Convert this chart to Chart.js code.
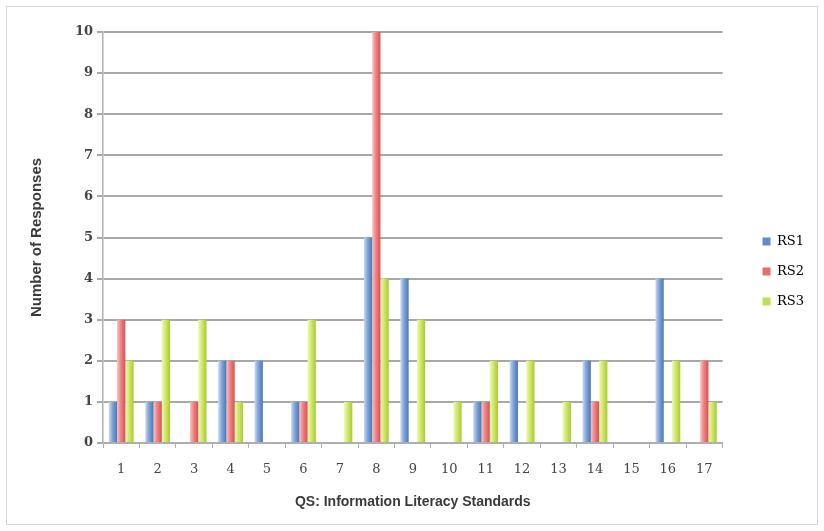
<!DOCTYPE html>
<html>
<head>
<meta charset="utf-8">
<script src="https://cdn.jsdelivr.net/npm/chart.js@4/dist/chart.umd.min.js"></script>
<style>
  html, body { margin: 0; padding: 0; background: #ffffff; }
  #wrap { width: 824px; height: 531px; position: relative; }
</style>
</head>
<body>
<div id="wrap"><canvas id="c" width="824" height="531"></canvas></div>
<script>
// Standards 1-17 and responses per rating scale
const standards = ['1','2','3','4','5','6','7','8','9','10','11','12','13','14','15','16','17'];
const rs1 = [1, 1, 0, 2, 2, 1, 0, 5, 4, 0, 1, 2, 0, 2, 0, 4, 0];
const rs2 = [3, 1, 1, 2, 0, 1, 0, 10, 0, 0, 1, 0, 0, 1, 0, 0, 2];
const rs3 = [2, 3, 3, 1, 0, 3, 1, 4, 3, 1, 2, 2, 1, 2, 0, 2, 1];
const seriesNames = ['RS1', 'RS2', 'RS3'];

const CAT_PCT = 0.68;

// shaded fill across each bar: light edge on the left, deeper tone on the right
const shades = [
  ['#c9daf2', '#7ea3d8', '#4a76b6'],
  ['#fbc3c3', '#f08282', '#d95050'],
  ['#eef9b8', '#cfe86a', '#a9c931']
];
function barFill(dsIndex) {
  return function (ctx) {
    const s = shades[dsIndex];
    if (ctx.type !== 'data') return s[1];
    const chart = ctx.chart;
    const xs = chart.scales.x;
    if (!xs || !xs.width) return s[1];
    const cat = xs.width / standards.length;
    const group = cat * CAT_PCT;
    const bw = group / 3;
    const center = xs.getPixelForValue(ctx.dataIndex);
    const left = center - group / 2 + dsIndex * bw;
    const g = chart.ctx.createLinearGradient(left, 0, left + bw, 0);
    g.addColorStop(0, s[0]);
    g.addColorStop(0.45, s[1]);
    g.addColorStop(1, s[2]);
    return g;
  };
}

// thin frame around the whole figure
const framePlugin = {
  id: 'frame',
  beforeDraw(chart) {
    const c = chart.ctx;
    c.save();
    c.fillStyle = '#ffffff';
    c.fillRect(0, 0, chart.width, chart.height);
    c.strokeStyle = '#d6d6d6';
    c.lineWidth = 1;
    c.strokeRect(6.5, 6.5, 811, 518);
    c.restore();
  }
};

new Chart(document.getElementById('c'), {
  type: 'bar',
  data: {
    labels: standards,
    datasets: [
      { label: seriesNames[0], data: rs1, backgroundColor: barFill(0), legendColor: '#5f8ccc' },
      { label: seriesNames[1], data: rs2, backgroundColor: barFill(1), legendColor: '#e86c6c' },
      { label: seriesNames[2], data: rs3, backgroundColor: barFill(2), legendColor: '#bfe04e' }
    ]
  },
  options: {
    responsive: false,
    animation: false,
    layout: { padding: { left: 28, right: 10, top: 32, bottom: 20 } },
    datasets: {
      bar: { categoryPercentage: CAT_PCT, barPercentage: 1.0, borderWidth: 0, minBarLength: 1 }
    },
    plugins: {
      tooltip: { enabled: false },
      legend: {
        position: 'right',
        labels: {
          boxWidth: 8,
          boxHeight: 8,
          padding: 17,
          color: '#555555',
          font: { family: 'DejaVu Serif', size: 13 },
          generateLabels(chart) {
            return chart.data.datasets.map((ds, i) => ({
              text: ds.label,
              fillStyle: ds.legendColor,
              strokeStyle: ds.legendColor,
              lineWidth: 0,
              hidden: false,
              datasetIndex: i
            }));
          }
        }
      }
    },
    scales: {
      x: {
        grid: { drawOnChartArea: false, drawTicks: true, tickLength: 5, offset: true, color: '#b0b0b0' },
        border: { color: '#b0b0b0', width: 1.5 },
        ticks: { color: '#444444', font: { family: 'DejaVu Serif', size: 13 }, padding: 14, maxRotation: 0 },
        title: {
          display: true,
          text: 'QS: Information Literacy Standards',
          color: '#3a3a3a',
          font: { family: 'Liberation Sans', size: 14, weight: 'bold' },
          padding: { top: 8, bottom: 0 }
        },
        afterFit(scale) { scale.height = 68; }
      },
      y: {
        min: 0,
        max: 10,
        ticks: { stepSize: 1, color: '#444444', font: { family: 'DejaVu Serif', size: 13, weight: 'bold' }, padding: 4 },
        grid: { color: '#a8a8a8', lineWidth: 2, tickLength: 6, drawTicks: true },
        border: { color: '#b0b0b0', width: 1.5 },
        title: {
          display: true,
          text: 'Number of Responses',
          color: '#3a3a3a',
          font: { family: 'Liberation Sans', size: 15, weight: 'bold' },
          padding: { top: 0, bottom: 0 }
        },
        afterFit(scale) { scale.width = 75; }
      },
      // empty right-hand strip keeping the legend clear of the plot
      gap: {
        type: 'linear',
        position: 'right',
        display: true,
        grid: { display: false },
        border: { display: false },
        ticks: { display: false },
        afterFit(scale) { scale.width = 23; }
      }
    }
  },
  plugins: [framePlugin]
});
</script>
</body>
</html>
